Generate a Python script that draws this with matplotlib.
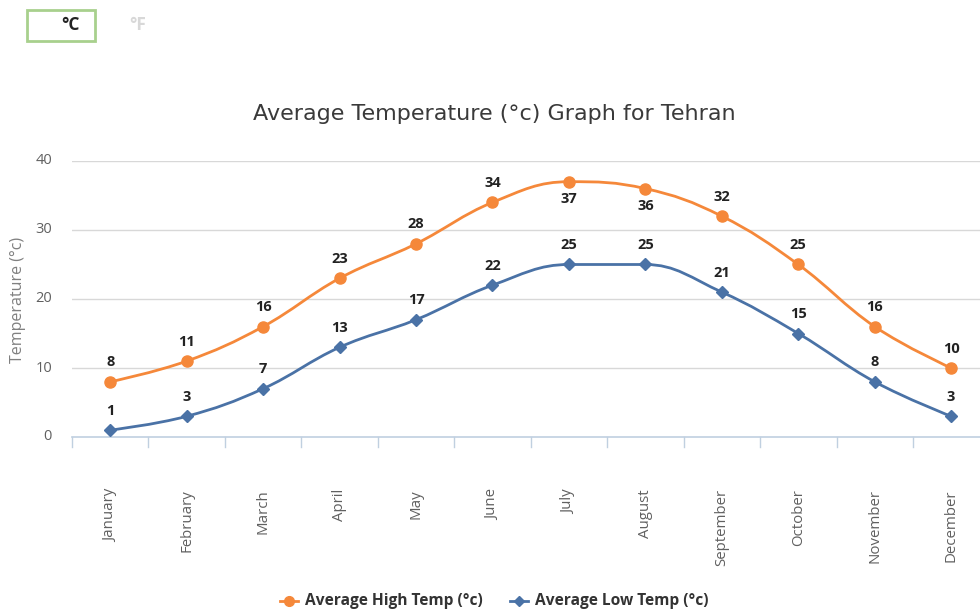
import matplotlib
matplotlib.use("Agg")
import matplotlib.pyplot as plt
from matplotlib.path import Path
from matplotlib.patches import PathPatch, Rectangle
from matplotlib.lines import Line2D

months = ["January", "February", "March", "April", "May", "June", "July",
          "August", "September", "October", "November", "December"]
high = [8, 11, 16, 23, 28, 34, 37, 36, 32, 25, 16, 10]
low = [1, 3, 7, 13, 17, 22, 25, 25, 21, 15, 8, 3]
yticks = [0, 10, 20, 30, 40]

ORANGE = "#F5883A"
BLUE = "#4A72A6"
W, H = 980, 615

fig = plt.figure(figsize=(W / 100, H / 100), dpi=100)
left, right, top, bottom = 72, 980, 161, 437
ax = fig.add_axes([left / W, 1 - bottom / H, (right - left) / W, (bottom - top) / H])
ax.set_xlim(-0.5, -0.5 + (right - left) / 76.45)
ax.set_ylim(0, 40)
for s in ax.spines.values():
    s.set_visible(False)
ax.set_xticks([])
ax.set_yticks([])
for v in yticks[1:]:
    ax.axhline(v, color="#D8D8D8", lw=1, zorder=0)
ax.axhline(0, color="#C0D0E0", lw=1.2, zorder=1, clip_on=False)

# tick marks at category boundaries
for i in range(len(months)):
    ax.plot([i - 0.5, i - 0.5], [0, -10 / 6.9], color="#C0D0E0", lw=1, clip_on=False)

for v in yticks:
    ax.text(-0.5 - 20 / 76.45, v, str(v), ha="right", va="center", fontsize=10.5,
            color="#606060", family="Open Sans")

for i, m in enumerate(months):
    ax.text(i, -52 / 6.9, m, rotation=90, ha="center", va="top", fontsize=10.8,
            color="#606060", family="Open Sans")


def spline_path(xs, ys, smoothing=1.5):
    denom = smoothing + 1
    verts = [(xs[0], ys[0])]
    codes = [Path.MOVETO]
    n = len(xs)
    lc = [None] * n
    rc = [None] * n
    for i in range(1, n - 1):
        px, py = xs[i], ys[i]
        lx, ly = xs[i - 1], ys[i - 1]
        nx, ny = xs[i + 1], ys[i + 1]
        lcx = (smoothing * px + lx) / denom
        lcy = (smoothing * py + ly) / denom
        rcx = (smoothing * px + nx) / denom
        rcy = (smoothing * py + ny) / denom
        corr = ((rcy - lcy) * (rcx - px)) / (rcx - lcx) + py - rcy
        lcy += corr
        rcy += corr
        if lcy > max(ly, py):
            lcy = max(ly, py); rcy = 2 * py - lcy
        elif lcy < min(ly, py):
            lcy = min(ly, py); rcy = 2 * py - lcy
        if rcy > max(py, ny):
            rcy = max(py, ny); lcy = 2 * py - rcy
        elif rcy < min(py, ny):
            rcy = min(py, ny); lcy = 2 * py - rcy
        lc[i] = (lcx, lcy)
        rc[i] = (rcx, rcy)
    for i in range(1, n):
        c1 = rc[i - 1] if rc[i - 1] is not None else (xs[i - 1], ys[i - 1])
        c2 = lc[i] if lc[i] is not None else (xs[i], ys[i])
        verts += [c1, c2, (xs[i], ys[i])]
        codes += [Path.CURVE4] * 3
    return Path(verts, codes)


xs = list(range(len(months)))
for data, color, marker, ms in [(high, ORANGE, "o", 8), (low, BLUE, "D", 6)]:
    ax.add_patch(PathPatch(spline_path(xs, data), fill=False, edgecolor=color,
                           lw=2, zorder=3, clip_on=False))
    ax.plot(xs, data, linestyle="none", marker=marker, ms=ms, color=color,
            mec=color, zorder=4, clip_on=False)

for i in xs:
    for data in (high, low):
        v = data[i]
        off = -12.5 if (data is high and v > 35) else 14
        ax.annotate(str(v), (i, v), xytext=(0, off), textcoords="offset points",
                    ha="center", va="center", fontsize=10.5, fontweight="bold",
                    color="#222222", family="Open Sans")

fig.text(494 / W, 1 - 114 / H, "Average Temperature (°c) Graph for Tehran",
         ha="center", va="center", fontsize=16, color="#3a3a3a", family="DejaVu Sans")
fig.text(18 / W, 1 - 300 / H, "Temperature (°c)", rotation=90, ha="center",
         va="center", fontsize=11.5, color="#808080", family="Open Sans")

# legend
ly = 1 - 601 / H
for x0, color, marker, ms, label in [(280, ORANGE, "o", 7, "Average High Temp (°c)"),
                                      (510, BLUE, "D", 5, "Average Low Temp (°c)")]:
    fig.add_artist(Line2D([x0 / W, (x0 + 18) / W], [ly, ly], color=color, lw=2,
                          transform=fig.transFigure))
    fig.add_artist(Line2D([(x0 + 9) / W], [ly], color=color, marker=marker, ms=ms,
                          transform=fig.transFigure))
    fig.text((x0 + 25) / W, ly, label, ha="left", va="center", fontsize=11.2,
             fontweight="bold", color="#333333", family="Open Sans")

# unit buttons
fig.add_artist(Rectangle((27 / W, 1 - 41 / H), 68 / W, 31 / H, fill=False,
                         edgecolor="#A8D08D", lw=2, transform=fig.transFigure))
fig.text(70 / W, 1 - 25 / H, "°C", ha="center", va="center", fontsize=12.5,
         fontweight="bold", color="#222222", family="Open Sans")
fig.text(138 / W, 1 - 25 / H, "°F", ha="center", va="center", fontsize=12.5,
         fontweight="bold", color="#D8D8D8", family="Open Sans")

fig.savefig("out.png", dpi=100, facecolor="white")
